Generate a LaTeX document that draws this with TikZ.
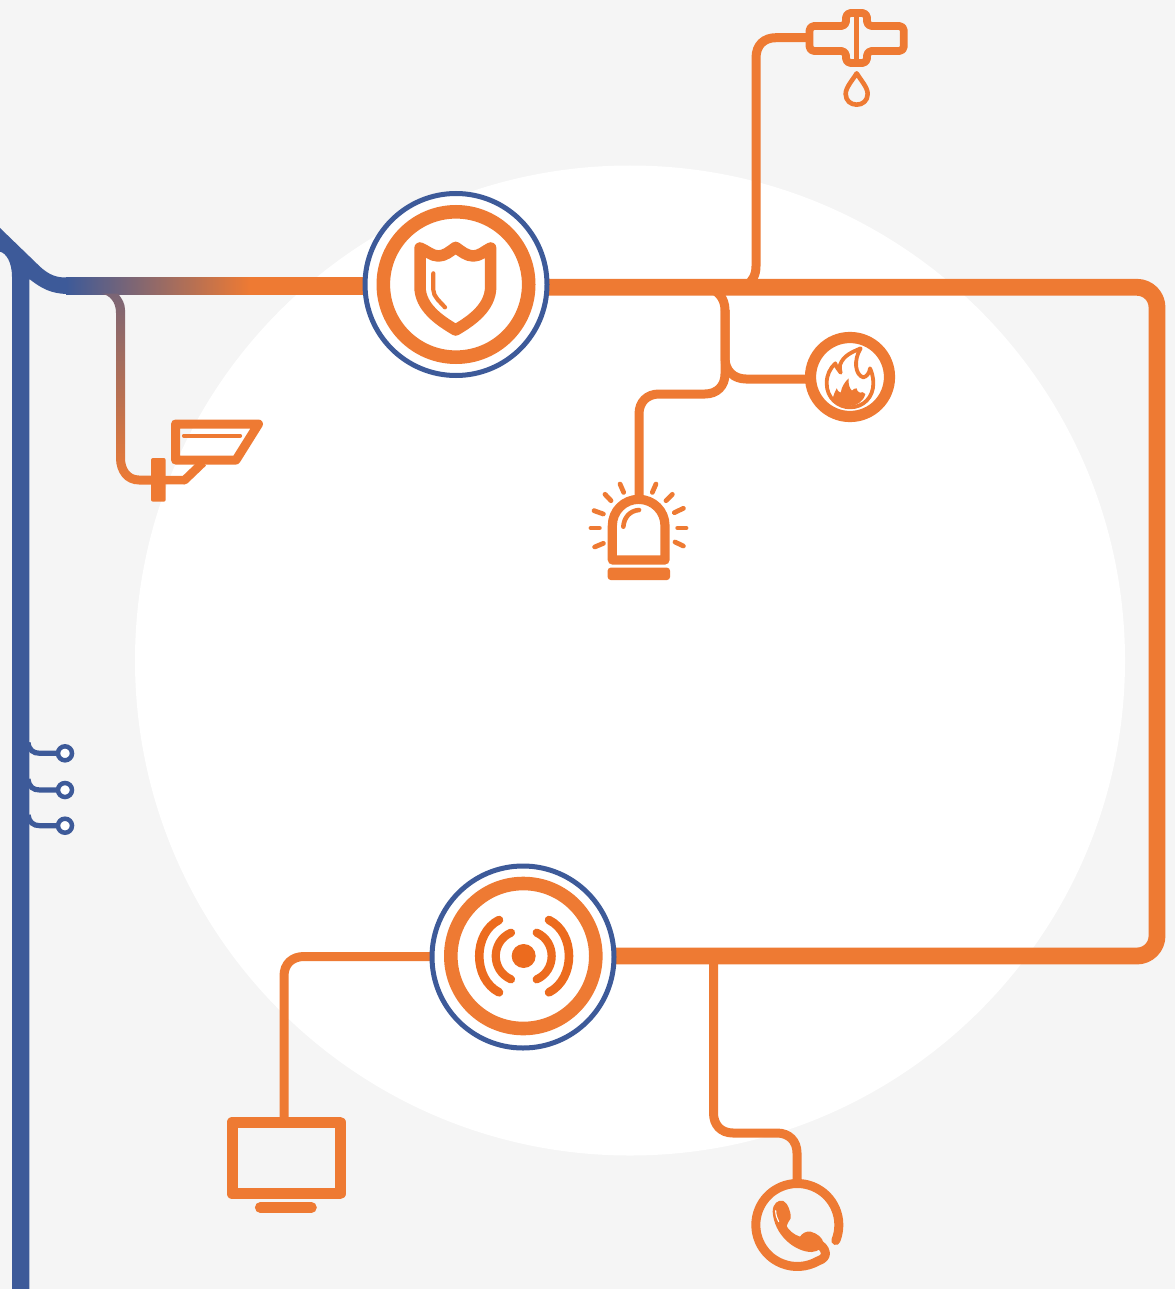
\documentclass[tikz,border=0pt]{standalone}
\definecolor{orng}{HTML}{EE7A33}
\definecolor{orngd}{HTML}{EC6B1E}
\definecolor{blu}{HTML}{3D5A99}
\definecolor{bggray}{HTML}{F5F5F5}
\pgfdeclarehorizontalshading{busfade}{100bp}{color(0bp)=(blu); color(25bp)=(blu); color(48.35bp)=(orng); color(100bp)=(orng)}
\tikzset{
  z/.style 2 args={shift={(#1,#2)},x=.33333pt,y=-.33333pt},
  trunk/.style={draw=orng,line width=16.8pt,line join=round},
  wire/.style={draw=orng,line width=9pt,line cap=butt},
  stub/.style={draw=blu,line width=5.2pt},
  icon/.style={draw=orng,line join=round,line cap=round},
  hub/.style={circle,draw=blu,line width=5pt,fill=white,minimum size=182pt,inner sep=0pt,outer sep=0pt},
  ringnode/.style={circle,draw=orng,inner sep=0pt,outer sep=0pt},
  tap/.style={circle,draw=blu,line width=4.5pt,fill=white,minimum size=14pt,inner sep=0pt,outer sep=0pt},
  ray/.style={icon,line width=4.8pt},
}
\begin{document}
\begin{tikzpicture}[x=1pt,y=-1pt]
\useasboundingbox (0,0) rectangle (1175,1289);
\fill[bggray] (0,0) rectangle (1175,1289);
\fill[white] (630,660.5) circle[radius=495];

% anchor points
\coordinate (shieldport) at (456,287.3);
\coordinate (waveport) at (523,956);
\coordinate (wavewest) at (523,956.5);
\coordinate (camjoin) at (155,480);
\coordinate (sprinkin) at (809,37.7);
\coordinate (sprinkfoot) at (748,285);
\coordinate (firein) at (810,379);
\coordinate (sirenin) at (639,497);
\coordinate (monin) at (284,1118);
\coordinate (phonein) at (797,1184);
\coordinate (bustop) at (704,288);
\coordinate (busdrop) at (725,310);
\coordinate (phonetop) at (713.5,960);

% blue bus with shoulder
\fill[blu] (0,228) -- (38.3,265) .. controls (50,276.5) and (58,277.5) .. (67,277.5)
  -- (67,294) .. controls (50,293.5) and (41,288) .. (29.3,279) -- (29.3,1289) -- (12,1289)
  -- (12,276.7) .. controls (12,262) and (6,253) .. (0,251.7) -- cycle;

% taps on the blue bus
\node[tap] (tapa) at (65,753.3) {};
\node[tap] (tapb) at (65,790) {};
\node[tap] (tapc) at (65,825.7) {};
\coordinate (busa) at (28,742.5);
\coordinate (busb) at (28,779);
\coordinate (busc) at (28,815);
\draw[stub] (busa) .. controls (29,750) and (33,753.3) .. (40,753.3) -- (tapa.west);
\draw[stub] (busb) .. controls (29,787) and (33,790) .. (40,790) -- (tapb.west);
\draw[stub] (busc) .. controls (29,822) and (33,825.7) .. (40,825.7) -- (tapc.west);

% gradient top line, blue to orange
\shade[shading=busfade] (66,277) rectangle (460,294.5);

% camera branch, with its own gradient
\shade[top color=blu!65!orng,bottom color=orng]
  (101,293.5) -- (118,293.5) .. controls (122,299) and (125,303) .. (125,310) -- (125,458)
  .. controls (125,468) and (130,475.5) .. (139,475.5) -- (156,475.5) -- (156,484.5) -- (139,484.5)
  .. controls (125,484.5) and (116,473) .. (116,458) -- (116,313) .. controls (116,302) and (110,295) .. (101,293.5) -- cycle;

% main loop
\draw[trunk] (shieldport) -- (1137,287.3) arc[start angle=-90,end angle=0,radius=20] -- (1157,936) arc[start angle=0,end angle=90,radius=20] -- (waveport);

% branches
\draw[wire] (sprinkfoot) .. controls (752,280) and (756,276) .. (756,266) -- (756,58) .. controls (756,45) and (764,37.7) .. (776,37.7) -- (sprinkin);
\draw[wire] (bustop) .. controls (717,288) and (725,298) .. (busdrop) -- (725,358) .. controls (725,371) and (734,379) .. (746,379) -- (firein);
\draw[wire] (busdrop) -- (725,374) .. controls (725,386) and (717,394) .. (705,394) -- (659,394) .. controls (647,394) and (639,402) .. (639,414) -- (sirenin);
\draw[wire] (wavewest) -- (304,956.5) .. controls (292,956.5) and (284,964) .. (284,976) -- (monin);
\draw[wire] (phonetop) -- (713.5,1113) .. controls (713.5,1125) and (721,1133) .. (733,1133) -- (777,1133) .. controls (789,1133) and (797,1141) .. (797,1153) -- (phonein);

% hubs
\node[hub] (shieldhub) at (456,284.5) {};
\node[ringnode,line width=13.6pt,minimum size=145.4pt] (shieldring) at (shieldhub.center) {};
\node[hub] (wavehub) at (523,957) {};
\node[ringnode,line width=13.6pt,minimum size=145pt] (wavering) at (523.3,956) {};
\node[ringnode,line width=11.2pt,minimum size=79pt,fill=white] (firering) at (850,377) {};

% shield
\begin{scope}[z={360}{190}]
\draw[icon,line width=11.5pt] (180,174) .. controls (200,182) and (215,198) .. (235,198)
  .. controls (255,198) and (270,184) .. (287,172) .. controls (304,184) and (320,198) .. (340,198)
  .. controls (360,198) and (375,182) .. (392,174) -- (392,290)
  .. controls (392,352) and (335,392) .. (287,420) .. controls (239,392) and (180,352) .. (180,290) -- cycle;
\draw[icon,line width=4.2pt] (220,250) -- (220,300) .. controls (220,320) and (240,335) .. (255,352);
\end{scope}

% sprinkler
\draw[icon,line width=7.8pt,rounded corners=4.5pt] (809.5,26) -- (846,26) -- (846,13) -- (867,13) -- (867,26) -- (903.8,26) -- (903.8,51) -- (867,51) -- (867,63) -- (846,63) -- (846,51) -- (809.5,51) -- cycle;
\draw[orng,line width=5pt] (856,13) -- (856,63);
\begin{scope}[z={780}{0}]
\draw[icon,line width=4.6pt] (230,220) .. controls (218,240) and (197,262) .. (197,282)
  .. controls (197,302) and (212,314) .. (230,314) .. controls (248,314) and (263,302) .. (263,282)
  .. controls (263,262) and (242,240) .. (230,220) -- cycle;
\end{scope}

% flame
\begin{scope}[z={790}{320}]
\draw[icon,line width=3.8pt] (212,85) .. controls (190,95) and (160,105) .. (150,135)
  .. controls (148,142) and (150,150) .. (152,158) .. controls (145,150) and (138,140) .. (136,130)
  .. controls (120,145) and (110,165) .. (110,190) .. controls (110,235) and (145,262) .. (180,262)
  .. controls (220,262) and (250,232) .. (250,190) .. controls (250,172) and (245,155) .. (240,145)
  .. controls (238,160) and (230,170) .. (220,172) .. controls (195,165) and (190,120) .. (212,85) -- cycle;
\fill[orng] (128,238) .. controls (130,225) and (135,215) .. (140,205) .. controls (142,212) and (146,216) .. (152,218)
  .. controls (155,200) and (165,185) .. (176,175) .. controls (174,190) and (178,205) .. (186,212)
  .. controls (190,208) and (194,204) .. (200,205) .. controls (200,212) and (204,216) .. (210,218)
  .. controls (215,216) and (220,215) .. (226,222) .. controls (220,245) and (200,258) .. (178,258)
  .. controls (155,258) and (138,252) .. (128,238) -- cycle;
\end{scope}

% siren
\begin{scope}[z={575}{470}]
\draw[icon,line width=9.2pt] (112,270) -- (112,167) .. controls (112,123) and (147,88) .. (191,88)
  .. controls (235,88) and (270,123) .. (270,167) -- (270,270) -- cycle;
\draw[icon,line width=4.6pt] (145,170) .. controls (147,142) and (165,122) .. (192,120);
\fill[orng,rounded corners=3pt] (98,293) rectangle (285,330);
\draw[ray] (135,42) -- (146,67);
\draw[ray] (90,73) -- (108,92);
\draw[ray] (57,122) -- (85,132);
\draw[ray] (48,174) -- (73,174);
\draw[ray] (59,231) -- (85,220);
\draw[ray] (243,42) -- (232,67);
\draw[ray] (292,73) -- (273,92);
\draw[ray] (325,115) -- (298,128);
\draw[ray] (333,174) -- (308,174);
\draw[ray] (325,228) -- (300,216);
\end{scope}

% camera
\draw[icon,line width=9pt] (175.5,424) -- (258.5,424) -- (236,460) -- (175.5,460) -- cycle;
\draw[icon,line width=4.2pt] (184,435.7) -- (240,435.7);
\draw[orng,line width=8.6pt,line join=round] (camjoin) -- (184.5,480.2) -- (203,462.5);
\fill[orng,rounded corners=2pt] (151,458) -- (165.7,458) -- (165.7,501.7) -- (151,501.7) -- cycle;

% monitor
\draw[orng,line width=11pt,line join=round] (232,1122.3) rectangle (340.3,1193.7);
\draw[icon,line width=10.6pt] (260.2,1207.5) -- (311.5,1207.5);

% waves
\begin{scope}[z={425}{860}]
\fill[orngd] (296,288) circle[radius=36];
\draw[draw=orngd,line cap=round,line width=8.2pt] (258,218) .. controls (197,245) and (197,331) .. (258,358);
\draw[draw=orngd,line cap=round,line width=8.2pt] (335,218) .. controls (395,245) and (395,331) .. (335,358);
\draw[draw=orngd,line cap=round,line width=8.6pt] (222,180) .. controls (143,220) and (143,356) .. (222,397);
\draw[draw=orngd,line cap=round,line width=8.6pt] (372,180) .. controls (452,220) and (452,356) .. (372,397);
\end{scope}

% phone
\begin{scope}[z={740}{1170}]
\draw[icon,line width=9pt] (287.4,211.6) arc[start angle=22,end angle=-300,radius=124.5]
  .. controls (250,268) and (258,258) .. (256,248) .. controls (254,235) and (244,226) .. (232,220);
\fill[orng] (98,125) .. controls (98,100) and (115,88) .. (130,93) .. controls (142,98) and (154,125) .. (152,145)
  .. controls (148,155) and (140,160) .. (140,168) .. controls (144,178) and (160,194) .. (180,200)
  .. controls (187,190) and (197,183) .. (212,185) .. controls (232,190) and (250,205) .. (250,220)
  .. controls (250,234) and (235,244) .. (215,246) .. controls (165,246) and (102,195) .. (98,125) -- cycle;
\draw[white,line width=1.1pt,line cap=round] (107,122) .. controls (107,135) and (111,145) .. (116,155);
\end{scope}
\end{tikzpicture}
\end{document}
